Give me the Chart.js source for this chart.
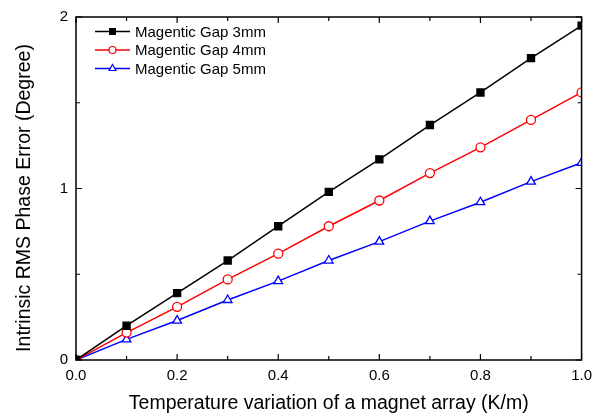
<!DOCTYPE html>
<html>
<head>
<meta charset="utf-8">
<script src="https://cdn.jsdelivr.net/npm/chart.js@4"></script>
<style>
  body { margin: 0; background: #fff; }
  #wrap { width: 599px; height: 416px; }
</style>
</head>
<body>
<div id="wrap"><canvas id="myChart"></canvas></div>
<script>
const xValues = [0, 0.1, 0.2, 0.3, 0.4, 0.5, 0.6, 0.7, 0.8, 0.9, 1.0];
const gap3mm = [0, 0.20, 0.39, 0.58, 0.78, 0.98, 1.17, 1.37, 1.56, 1.76, 1.95];
const gap4mm = [0, 0.16, 0.31, 0.47, 0.62, 0.78, 0.93, 1.09, 1.24, 1.40, 1.56];
const gap5mm = [0, 0.12, 0.23, 0.35, 0.46, 0.58, 0.69, 0.81, 0.92, 1.04, 1.15];
const seriesLabels = ["Magentic Gap 3mm", "Magentic Gap 4mm", "Magentic Gap 5mm"];
const xMajorTicks = [0, 0.2, 0.4, 0.6, 0.8, 1.0];
const xMinorTicks = [0.1, 0.3, 0.5, 0.7, 0.9];
const yMajorTicks = [0, 1, 2];
const yMinorTicks = [0.5, 1.5];
const yTitle = 'Intrinsic RMS Phase Error (Degree)';

const FONT = "'Liberation Sans', Arial, sans-serif";

function toPoints(vals) {
  return vals.map((v, i) => ({x: xValues[i], y: v}));
}

// frame, inward ticks on all four sides, y title and legend inside the plot
const framePlugin = {
  id: 'frame',
  afterDraw(chart) {
    const ctx = chart.ctx;
    const a = chart.chartArea;
    const xs = chart.scales.x, ys = chart.scales.y;
    ctx.save();
    ctx.strokeStyle = '#000';
    ctx.lineWidth = 1.5;
    ctx.strokeRect(a.left, a.top, a.right - a.left, a.bottom - a.top);
    ctx.lineWidth = 1.2;
    ctx.beginPath();
    xMajorTicks.concat(xMinorTicks).forEach(v => {
      const len = xMajorTicks.includes(v) ? 6 : 4;
      const px = xs.getPixelForValue(v);
      ctx.moveTo(px, a.bottom); ctx.lineTo(px, a.bottom - len);
      ctx.moveTo(px, a.top); ctx.lineTo(px, a.top + len);
    });
    yMajorTicks.concat(yMinorTicks).forEach(v => {
      const len = yMajorTicks.includes(v) ? 6 : 4;
      const py = ys.getPixelForValue(v);
      ctx.moveTo(a.left, py); ctx.lineTo(a.left + len, py);
      ctx.moveTo(a.right, py); ctx.lineTo(a.right - len, py);
    });
    ctx.stroke();

    // y axis title
    ctx.save();
    ctx.translate(25, 198);
    ctx.rotate(-Math.PI / 2);
    ctx.font = '19.5px ' + FONT;
    ctx.fillStyle = '#000';
    ctx.textAlign = 'center';
    ctx.textBaseline = 'middle';
    ctx.fillText(yTitle, 0, 0);
    ctx.restore();

    // legend
    ctx.font = '15px ' + FONT;
    ctx.textBaseline = 'middle';
    chart.data.datasets.forEach((ds, i) => {
      const y = a.top + 14.5 + i * 18.5;
      const x0 = a.left + 19;
      ctx.strokeStyle = ds.borderColor;
      ctx.lineWidth = 1.5;
      ctx.beginPath();
      ctx.moveTo(x0, y); ctx.lineTo(x0 + 35, y);
      ctx.stroke();
      ctx.fillStyle = ds.pointBackgroundColor;
      ctx.strokeStyle = ds.borderColor;
      ctx.lineWidth = 1.2;
      Chart.helpers.drawPoint(ctx, {
        pointStyle: ds.pointStyle, radius: ds.pointRadius - 1, borderWidth: 1.2
      }, x0 + 17.5, y);
      ctx.fillStyle = '#000';
      ctx.fillText(ds.label, x0 + 40, y + 1);
    });
    ctx.restore();
  }
};

const data = {
  datasets: [
    {label: seriesLabels[0], data: toPoints(gap3mm), borderColor: '#000', backgroundColor: '#000',
     pointStyle: 'rect', pointRadius: 5, pointBackgroundColor: '#000', pointBorderColor: '#000'},
    {label: seriesLabels[1], data: toPoints(gap4mm), borderColor: '#ff0000', backgroundColor: '#fff',
     pointStyle: 'circle', pointRadius: 4.5, pointBackgroundColor: '#fff', pointBorderColor: '#ff0000'},
    {label: seriesLabels[2], data: toPoints(gap5mm), borderColor: '#0000ff', backgroundColor: '#fff',
     pointStyle: 'triangle', pointRadius: 5, pointBackgroundColor: '#fff', pointBorderColor: '#0000ff'}
  ]
};
data.datasets.forEach(ds => { ds.borderWidth = 1.5; ds.pointBorderWidth = 1.3; ds.tension = 0; });

const config = {
  type: 'line',
  data: data,
  plugins: [framePlugin],
  options: {
    responsive: true,
    maintainAspectRatio: false,
    animation: false,
    layout: {padding: {left: 0, right: 16, top: 13, bottom: 0}},
    plugins: {legend: {display: false}, tooltip: {enabled: false}},
    scales: {
      x: {
        type: 'linear', min: 0, max: 1,
        afterBuildTicks: s => { s.ticks = xMajorTicks.map(v => ({value: v})); },
        afterFit: s => { s.height = 56; },
        grid: {display: false, drawTicks: false},
        border: {display: false},
        ticks: {color: '#000', font: {family: FONT, size: 15}, padding: 7,
                callback: v => v.toFixed(1), maxRotation: 0},
        title: {display: true, text: 'Temperature variation of a magnet array (K/m)',
                color: '#000', font: {family: FONT, size: 19.5}, padding: {top: 4, bottom: 1}}
      },
      y: {
        min: 0, max: 2,
        afterBuildTicks: s => { s.ticks = yMajorTicks.map(v => ({value: v})); },
        afterFit: s => { s.width = 76; },
        grid: {display: false, drawTicks: false},
        border: {display: false},
        ticks: {color: '#000', font: {family: FONT, size: 15}, padding: 8}
      }
    }
  }
};

const myChart = new Chart(document.getElementById('myChart'), config);
</script>
</body>
</html>
